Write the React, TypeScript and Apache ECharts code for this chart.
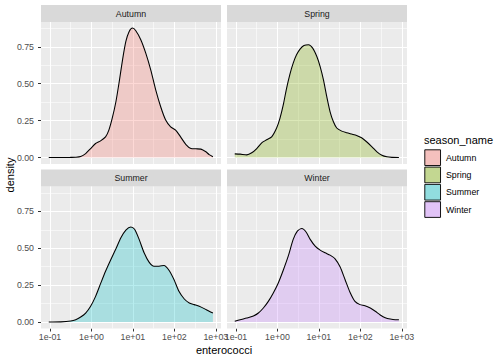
import React, { useEffect, useRef } from 'react';
import * as echarts from 'echarts';

// ---- data (x in log10(enterococci)) ----
const seasons = ['Autumn', 'Spring', 'Summer', 'Winter'];
const seasonColors = ['248,118,109', '124,174,0', '0,191,196', '199,124,255'];

const autumnX = [-1.03, -0.7, -0.5, -0.38, -0.26, -0.14, -0.02, 0.1, 0.22, 0.34, 0.42, 0.5, 0.59, 0.67, 0.75, 0.83, 0.91, 0.99, 1.07, 1.19, 1.31, 1.43, 1.55, 1.67, 1.79, 1.91, 2.03, 2.15, 2.28, 2.4, 2.52, 2.64, 2.76, 2.84, 2.93];
const autumnD = [0, 0, 0.001, 0.002, 0.007, 0.027, 0.061, 0.095, 0.113, 0.14, 0.186, 0.265, 0.378, 0.514, 0.662, 0.786, 0.854, 0.877, 0.859, 0.798, 0.707, 0.594, 0.458, 0.344, 0.254, 0.208, 0.186, 0.14, 0.088, 0.061, 0.059, 0.057, 0.039, 0.02, 0.006];

const springX = [-1.03, -0.9, -0.74, -0.62, -0.5, -0.38, -0.26, -0.14, -0.02, 0.06, 0.14, 0.22, 0.3, 0.38, 0.46, 0.55, 0.64, 0.75, 0.85, 0.95, 1.03, 1.11, 1.19, 1.27, 1.35, 1.43, 1.55, 1.67, 1.79, 1.91, 2.03, 2.15, 2.28, 2.4, 2.52, 2.64, 2.76, 2.93];
const springD = [0.025, 0.023, 0.018, 0.032, 0.061, 0.1, 0.12, 0.14, 0.2, 0.265, 0.356, 0.469, 0.564, 0.639, 0.696, 0.736, 0.759, 0.764, 0.741, 0.684, 0.616, 0.526, 0.412, 0.31, 0.242, 0.2, 0.179, 0.168, 0.159, 0.15, 0.134, 0.107, 0.073, 0.039, 0.016, 0.005, 0.001, 0.0];

const summerX = [-1.03, -0.74, -0.5, -0.38, -0.26, -0.14, -0.02, 0.1, 0.22, 0.34, 0.46, 0.59, 0.71, 0.83, 0.95, 1.04, 1.15, 1.27, 1.39, 1.51, 1.63, 1.75, 1.87, 1.99, 2.11, 2.24, 2.36, 2.48, 2.6, 2.72, 2.84, 2.93];
const summerD = [0, 0.001, 0.007, 0.016, 0.034, 0.061, 0.107, 0.174, 0.26, 0.344, 0.419, 0.496, 0.571, 0.623, 0.644, 0.628, 0.56, 0.469, 0.406, 0.378, 0.378, 0.383, 0.351, 0.288, 0.208, 0.156, 0.129, 0.118, 0.107, 0.091, 0.073, 0.061];

const winterX = [-1.03, -0.9, -0.74, -0.58, -0.46, -0.34, -0.22, -0.1, 0.02, 0.14, 0.26, 0.38, 0.48, 0.59, 0.69, 0.79, 0.91, 1.03, 1.15, 1.27, 1.39, 1.51, 1.63, 1.75, 1.87, 1.99, 2.11, 2.24, 2.36, 2.48, 2.6, 2.72, 2.84, 2.93];
const winterD = [0.005, 0.016, 0.027, 0.041, 0.061, 0.095, 0.14, 0.197, 0.265, 0.351, 0.446, 0.56, 0.616, 0.634, 0.61, 0.56, 0.514, 0.487, 0.469, 0.453, 0.428, 0.374, 0.288, 0.202, 0.14, 0.118, 0.111, 0.095, 0.073, 0.048, 0.029, 0.02, 0.016, 0.016];

const seriesX = [autumnX, springX, summerX, winterX];
const seriesD = [autumnD, springD, summerD, winterD];

const xTickValues = [-1, 0, 1, 2, 3];
const xTickLabels = ['1e-01', '1e+00', '1e+01', '1e+02', '1e+03'];
const xMinorValues = [-0.5, 0.5, 1.5, 2.5];
const yTickValues = [0, 0.25, 0.5, 0.75];
const yTickLabels = ['0.00', '0.25', '0.50', '0.75'];
const yMinorValues = [0.125, 0.375, 0.625, 0.875];

const X_MIN = -1.217;
const X_MAX = 3.125;
const Y_MIN = -0.0437;
const Y_MAX = 0.918;

const FONT = '"Liberation Sans", Arial, Helvetica, sans-serif';

export default function App() {
  const ref = useRef<HTMLDivElement>(null);

  useEffect(() => {
    if (!ref.current) return;
    const chart = echarts.init(ref.current, undefined, { renderer: 'svg' });

    const panels = [
      { left: 41, top: 22 },
      { left: 227, top: 22 },
      { left: 41, top: 186.5 },
      { left: 227, top: 186.5 },
    ];
    const PW = 180;
    const PH = 142;
    const STRIP_H = 17;

    const grids = panels.map((p) => ({
      left: p.left,
      top: p.top,
      width: PW,
      height: PH,
      show: true,
      backgroundColor: '#EBEBEB',
      borderWidth: 0,
      containLabel: false,
    }));

    const xAxes = panels.map((_, i) => ({
      type: 'value',
      gridIndex: i,
      min: X_MIN,
      max: X_MAX,
      axisLine: { show: false, onZero: false },
      splitLine: { show: false },
      axisTick: {
        show: i >= 2,
        customValues: xTickValues,
        length: 3,
        lineStyle: { color: '#333333', width: 1 },
      },
      axisLabel: {
        show: i >= 2,
        customValues: xTickValues,
        formatter: (v: number) => {
          const idx = xTickValues.findIndex((t) => Math.abs(t - v) < 1e-6);
          return idx >= 0 ? xTickLabels[idx] : '';
        },
        color: '#4D4D4D',
        fontSize: 8.8,
        fontFamily: FONT,
        margin: 4,
      },
    }));

    const yAxes = panels.map((_, i) => ({
      type: 'value',
      gridIndex: i,
      min: Y_MIN,
      max: Y_MAX,
      axisLine: { show: false, onZero: false },
      splitLine: { show: false },
      axisTick: {
        show: i % 2 === 0,
        customValues: yTickValues,
        length: 3,
        lineStyle: { color: '#333333', width: 1 },
      },
      axisLabel: {
        show: i % 2 === 0,
        customValues: yTickValues,
        formatter: (v: number) => {
          const idx = yTickValues.findIndex((t) => Math.abs(t - v) < 1e-6);
          return idx >= 0 ? yTickLabels[idx] : '';
        },
        color: '#4D4D4D',
        fontSize: 8.8,
        fontFamily: FONT,
        margin: 7,
      },
    }));

    const gridSeries = panels.map((_, i) => {
      const data: any[] = [];
      xMinorValues.forEach((v) =>
        data.push({ coords: [[v, Y_MIN], [v, Y_MAX]], lineStyle: { width: 0.55 } })
      );
      yMinorValues.forEach((v) =>
        data.push({ coords: [[X_MIN, v], [X_MAX, v]], lineStyle: { width: 0.55 } })
      );
      xTickValues.forEach((v) =>
        data.push({ coords: [[v, Y_MIN], [v, Y_MAX]], lineStyle: { width: 1.07 } })
      );
      yTickValues.forEach((v) =>
        data.push({ coords: [[X_MIN, v], [X_MAX, v]], lineStyle: { width: 1.07 } })
      );
      return {
        type: 'lines',
        coordinateSystem: 'cartesian2d',
        xAxisIndex: i,
        yAxisIndex: i,
        silent: true,
        z: 1,
        lineStyle: { color: '#FFFFFF', opacity: 1, width: 1.07, curveness: 0 },
        data,
      };
    });

    const densitySeries = seasons.map((s, i) => ({
      type: 'line',
      name: s,
      xAxisIndex: i,
      yAxisIndex: i,
      z: 2,
      silent: true,
      showSymbol: false,
      symbol: 'none',
      smooth: 0.25,
      data: seriesX[i].map((x, k) => [x, seriesD[i][k]]),
      lineStyle: { color: '#000000', width: 1.07 },
      areaStyle: { color: `rgba(${seasonColors[i]},0.4)`, origin: 0 },
    }));

    const graphics: any[] = [];
    panels.forEach((p, i) => {
      const stripTop = p.top - STRIP_H;
      graphics.push({
        type: 'rect',
        shape: { x: p.left, y: stripTop, width: PW, height: STRIP_H },
        style: { fill: '#D9D9D9' },
        silent: true,
      });
      graphics.push({
        type: 'text',
        x: p.left + PW / 2,
        y: stripTop + STRIP_H / 2,
        style: {
          text: seasons[i],
          fill: '#1A1A1A',
          font: `8.8px ${FONT}`,
          align: 'center',
          verticalAlign: 'middle',
        },
        silent: true,
      });
    });

    // axis titles
    graphics.push({
      type: 'text',
      x: 224,
      y: 350,
      style: {
        text: 'enterococci',
        fill: '#000000',
        font: `11px ${FONT}`,
        align: 'center',
        verticalAlign: 'middle',
      },
      silent: true,
    });
    graphics.push({
      type: 'text',
      x: 10,
      y: 175,
      rotation: Math.PI / 2,
      style: {
        text: 'density',
        fill: '#000000',
        font: `11px ${FONT}`,
        align: 'center',
        verticalAlign: 'middle',
      },
      silent: true,
    });

    // legend
    graphics.push({
      type: 'text',
      x: 424,
      y: 140,
      style: {
        text: 'season_name',
        fill: '#000000',
        font: `11px ${FONT}`,
        align: 'left',
        verticalAlign: 'middle',
      },
      silent: true,
    });
    const KEY = 17.3;
    seasons.forEach((s, i) => {
      const ky = 149 + i * KEY;
      graphics.push({
        type: 'rect',
        shape: { x: 424, y: ky, width: KEY, height: KEY },
        style: { fill: '#F2F2F2' },
        silent: true,
      });
      graphics.push({
        type: 'rect',
        shape: { x: 424.8, y: ky + 0.8, width: KEY - 1.6, height: KEY - 1.6 },
        style: { fill: `rgba(${seasonColors[i]},0.4)`, stroke: '#000000', lineWidth: 0.9 },
        silent: true,
      });
      graphics.push({
        type: 'text',
        x: 446,
        y: ky + KEY / 2,
        style: {
          text: s,
          fill: '#000000',
          font: `8.8px ${FONT}`,
          align: 'left',
          verticalAlign: 'middle',
        },
        silent: true,
      });
    });

    chart.setOption({
      animation: false,
      backgroundColor: '#FFFFFF',
      textStyle: { fontFamily: FONT },
      grid: grids,
      xAxis: xAxes,
      yAxis: yAxes,
      series: [...gridSeries, ...densitySeries],
      graphic: graphics,
    } as any);

    return () => {
      chart.dispose();
    };
  }, []);

  return (
    <div
      ref={ref}
      style={{ position: 'fixed', left: 0, top: 0, width: 504, height: 360 }}
    />
  );
}
